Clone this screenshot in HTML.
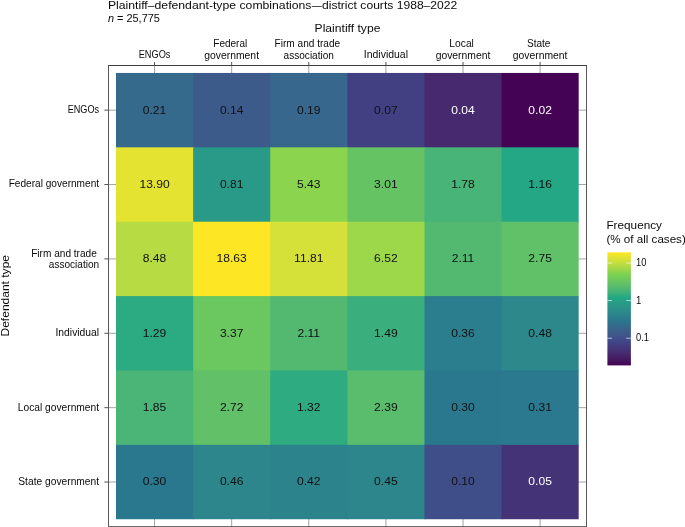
<!DOCTYPE html>
<html lang="en"><head><meta charset="utf-8"><title>Plaintiff–defendant-type combinations</title>
<style>html,body{margin:0;padding:0;background:#fff}body{width:685px;height:527px;overflow:hidden}svg{display:block}</style></head>
<body>
<svg width="685" height="527" viewBox="0 0 685 527" font-family="Liberation Sans, sans-serif" fill="#0a0a0a">
<rect width="685" height="527" fill="#fff"/>
<text y="8.8" font-size="10.4"><tspan x="107.9" textLength="203.6" lengthAdjust="spacingAndGlyphs">Plaintiff–defendant-type combinations</tspan><tspan x="311.8" textLength="10.1" lengthAdjust="spacingAndGlyphs">—</tspan><tspan x="322.0" textLength="135.3" lengthAdjust="spacingAndGlyphs">district courts 1988–2022</tspan></text>
<text x="107.9" y="22.0" font-size="10.4" textLength="52.0" lengthAdjust="spacingAndGlyphs"><tspan font-style="italic">n</tspan> = 25,775</text>
<text x="314.60" y="31.70" font-size="10.4" textLength="65.8" lengthAdjust="spacingAndGlyphs">Plaintiff type</text>
<text transform="translate(9.0,336.5) rotate(-90)" font-size="10.4" textLength="81.5" lengthAdjust="spacingAndGlyphs">Defendant type</text>
<g stroke="#333333" stroke-width="0.45" fill="none">
<path d="M154.56 65.5V73.45M154.56 518.73V526.75"/>
<path d="M231.67 65.5V73.45M231.67 518.73V526.75"/>
<path d="M308.79 65.5V73.45M308.79 518.73V526.75"/>
<path d="M385.90 65.5V73.45M385.90 518.73V526.75"/>
<path d="M463.02 65.5V73.45M463.02 518.73V526.75"/>
<path d="M540.13 65.5V73.45M540.13 518.73V526.75"/>
<path d="M108.5 110.14H116.5M578.19 110.14H586.5"/>
<path d="M108.5 184.52H116.5M578.19 184.52H586.5"/>
<path d="M108.5 258.90H116.5M578.19 258.90H586.5"/>
<path d="M108.5 333.28H116.5M578.19 333.28H586.5"/>
<path d="M108.5 407.66H116.5M578.19 407.66H586.5"/>
<path d="M108.5 482.04H116.5M578.19 482.04H586.5"/>
</g>
<g stroke="#333333" stroke-width="0.85" fill="none">
<path d="M154.56 62.0V65.5"/>
<path d="M231.67 62.0V65.5"/>
<path d="M308.79 62.0V65.5"/>
<path d="M385.90 62.0V65.5"/>
<path d="M463.02 62.0V65.5"/>
<path d="M540.13 62.0V65.5"/>
<path d="M104.4 110.14H108.5"/>
<path d="M104.4 184.52H108.5"/>
<path d="M104.4 258.90H108.5"/>
<path d="M104.4 333.28H108.5"/>
<path d="M104.4 407.66H108.5"/>
<path d="M104.4 482.04H108.5"/>
</g>
<rect x="116.00" y="72.95" width="78.11" height="75.38" fill="#356a8c"/>
<rect x="193.12" y="72.95" width="78.11" height="75.38" fill="#3c5b8a"/>
<rect x="270.23" y="72.95" width="78.11" height="75.38" fill="#37678c"/>
<rect x="347.34" y="72.95" width="78.11" height="75.38" fill="#424083"/>
<rect x="424.46" y="72.95" width="78.11" height="75.38" fill="#46296e"/>
<rect x="501.57" y="72.95" width="77.11" height="75.38" fill="#440355"/>
<rect x="116.00" y="147.33" width="78.11" height="75.38" fill="#e4e332"/>
<rect x="193.12" y="147.33" width="78.11" height="75.38" fill="#299a87"/>
<rect x="270.23" y="147.33" width="78.11" height="75.38" fill="#8ad44e"/>
<rect x="347.34" y="147.33" width="78.11" height="75.38" fill="#66c364"/>
<rect x="424.46" y="147.33" width="78.11" height="75.38" fill="#48b477"/>
<rect x="501.57" y="147.33" width="77.11" height="75.38" fill="#23a784"/>
<rect x="116.00" y="221.71" width="78.11" height="75.38" fill="#b7db43"/>
<rect x="193.12" y="221.71" width="78.11" height="75.38" fill="#fde725"/>
<rect x="270.23" y="221.71" width="78.11" height="75.38" fill="#d5e038"/>
<rect x="347.34" y="221.71" width="78.11" height="75.38" fill="#9dd74a"/>
<rect x="424.46" y="221.71" width="78.11" height="75.38" fill="#53b971"/>
<rect x="501.57" y="221.71" width="77.11" height="75.38" fill="#61c168"/>
<rect x="116.00" y="296.09" width="78.11" height="75.38" fill="#2caa82"/>
<rect x="193.12" y="296.09" width="78.11" height="75.38" fill="#6bc760"/>
<rect x="270.23" y="296.09" width="78.11" height="75.38" fill="#53b971"/>
<rect x="347.34" y="296.09" width="78.11" height="75.38" fill="#3aae7d"/>
<rect x="424.46" y="296.09" width="78.11" height="75.38" fill="#2b7e8d"/>
<rect x="501.57" y="296.09" width="77.11" height="75.38" fill="#2c888b"/>
<rect x="116.00" y="370.47" width="78.11" height="75.38" fill="#4ab576"/>
<rect x="193.12" y="370.47" width="78.11" height="75.38" fill="#61c068"/>
<rect x="270.23" y="370.47" width="78.11" height="75.38" fill="#2eab81"/>
<rect x="347.34" y="370.47" width="78.11" height="75.38" fill="#5abc6d"/>
<rect x="424.46" y="370.47" width="78.11" height="75.38" fill="#2a788e"/>
<rect x="501.57" y="370.47" width="77.11" height="75.38" fill="#2a798e"/>
<rect x="116.00" y="444.85" width="78.11" height="74.38" fill="#2a788e"/>
<rect x="193.12" y="444.85" width="78.11" height="74.38" fill="#2c868b"/>
<rect x="270.23" y="444.85" width="78.11" height="74.38" fill="#2c838c"/>
<rect x="347.34" y="444.85" width="78.11" height="74.38" fill="#2c868b"/>
<rect x="424.46" y="444.85" width="78.11" height="74.38" fill="#3f4e88"/>
<rect x="501.57" y="444.85" width="77.11" height="74.38" fill="#453377"/>
<path d="M108.0 65.5H587.0M108.0 526.75H587.0" stroke="#3d3d3d" stroke-width="1" fill="none"/>
<path d="M108.5 65.5V526.75M586.5 65.5V526.75" stroke="#585858" stroke-width="1" fill="none"/>
<text x="142.80" y="113.59" font-size="11.4" textLength="23.5" lengthAdjust="spacingAndGlyphs" fill="#111">0.21</text>
<text x="219.91" y="113.59" font-size="11.4" textLength="23.5" lengthAdjust="spacingAndGlyphs" fill="#111">0.14</text>
<text x="297.03" y="113.59" font-size="11.4" textLength="23.5" lengthAdjust="spacingAndGlyphs" fill="#111">0.19</text>
<text x="374.14" y="113.59" font-size="11.4" textLength="23.5" lengthAdjust="spacingAndGlyphs" fill="#111">0.07</text>
<text x="451.26" y="113.59" font-size="11.4" textLength="23.5" lengthAdjust="spacingAndGlyphs" fill="#fff">0.04</text>
<text x="528.37" y="113.59" font-size="11.4" textLength="23.5" lengthAdjust="spacingAndGlyphs" fill="#fff">0.02</text>
<text x="139.44" y="187.97" font-size="11.4" textLength="30.2" lengthAdjust="spacingAndGlyphs" fill="#111">13.90</text>
<text x="219.91" y="187.97" font-size="11.4" textLength="23.5" lengthAdjust="spacingAndGlyphs" fill="#111">0.81</text>
<text x="297.03" y="187.97" font-size="11.4" textLength="23.5" lengthAdjust="spacingAndGlyphs" fill="#111">5.43</text>
<text x="374.14" y="187.97" font-size="11.4" textLength="23.5" lengthAdjust="spacingAndGlyphs" fill="#111">3.01</text>
<text x="451.26" y="187.97" font-size="11.4" textLength="23.5" lengthAdjust="spacingAndGlyphs" fill="#111">1.78</text>
<text x="528.37" y="187.97" font-size="11.4" textLength="23.5" lengthAdjust="spacingAndGlyphs" fill="#111">1.16</text>
<text x="142.80" y="262.35" font-size="11.4" textLength="23.5" lengthAdjust="spacingAndGlyphs" fill="#111">8.48</text>
<text x="216.55" y="262.35" font-size="11.4" textLength="30.2" lengthAdjust="spacingAndGlyphs" fill="#111">18.63</text>
<text x="294.12" y="262.35" font-size="11.4" textLength="29.3" lengthAdjust="spacingAndGlyphs" fill="#111">11.81</text>
<text x="374.14" y="262.35" font-size="11.4" textLength="23.5" lengthAdjust="spacingAndGlyphs" fill="#111">6.52</text>
<text x="451.71" y="262.35" font-size="11.4" textLength="22.6" lengthAdjust="spacingAndGlyphs" fill="#111">2.11</text>
<text x="528.37" y="262.35" font-size="11.4" textLength="23.5" lengthAdjust="spacingAndGlyphs" fill="#111">2.75</text>
<text x="142.80" y="336.73" font-size="11.4" textLength="23.5" lengthAdjust="spacingAndGlyphs" fill="#111">1.29</text>
<text x="219.91" y="336.73" font-size="11.4" textLength="23.5" lengthAdjust="spacingAndGlyphs" fill="#111">3.37</text>
<text x="297.48" y="336.73" font-size="11.4" textLength="22.6" lengthAdjust="spacingAndGlyphs" fill="#111">2.11</text>
<text x="374.14" y="336.73" font-size="11.4" textLength="23.5" lengthAdjust="spacingAndGlyphs" fill="#111">1.49</text>
<text x="451.26" y="336.73" font-size="11.4" textLength="23.5" lengthAdjust="spacingAndGlyphs" fill="#111">0.36</text>
<text x="528.37" y="336.73" font-size="11.4" textLength="23.5" lengthAdjust="spacingAndGlyphs" fill="#111">0.48</text>
<text x="142.80" y="411.11" font-size="11.4" textLength="23.5" lengthAdjust="spacingAndGlyphs" fill="#111">1.85</text>
<text x="219.91" y="411.11" font-size="11.4" textLength="23.5" lengthAdjust="spacingAndGlyphs" fill="#111">2.72</text>
<text x="297.03" y="411.11" font-size="11.4" textLength="23.5" lengthAdjust="spacingAndGlyphs" fill="#111">1.32</text>
<text x="374.14" y="411.11" font-size="11.4" textLength="23.5" lengthAdjust="spacingAndGlyphs" fill="#111">2.39</text>
<text x="451.26" y="411.11" font-size="11.4" textLength="23.5" lengthAdjust="spacingAndGlyphs" fill="#111">0.30</text>
<text x="528.37" y="411.11" font-size="11.4" textLength="23.5" lengthAdjust="spacingAndGlyphs" fill="#111">0.31</text>
<text x="142.80" y="485.49" font-size="11.4" textLength="23.5" lengthAdjust="spacingAndGlyphs" fill="#111">0.30</text>
<text x="219.91" y="485.49" font-size="11.4" textLength="23.5" lengthAdjust="spacingAndGlyphs" fill="#111">0.46</text>
<text x="297.03" y="485.49" font-size="11.4" textLength="23.5" lengthAdjust="spacingAndGlyphs" fill="#111">0.42</text>
<text x="374.14" y="485.49" font-size="11.4" textLength="23.5" lengthAdjust="spacingAndGlyphs" fill="#111">0.45</text>
<text x="451.26" y="485.49" font-size="11.4" textLength="23.5" lengthAdjust="spacingAndGlyphs" fill="#111">0.10</text>
<text x="528.37" y="485.49" font-size="11.4" textLength="23.5" lengthAdjust="spacingAndGlyphs" fill="#fff">0.05</text>
<text x="138.71" y="57.60" font-size="10" textLength="31.7" lengthAdjust="spacingAndGlyphs">ENGOs</text>
<text x="213.37" y="47.20" font-size="10" textLength="33.8" lengthAdjust="spacingAndGlyphs">Federal</text>
<text x="204.32" y="58.60" font-size="10" textLength="54.7" lengthAdjust="spacingAndGlyphs">government</text>
<text x="274.59" y="47.20" font-size="10" textLength="65.6" lengthAdjust="spacingAndGlyphs">Firm and trade</text>
<text x="283.64" y="58.60" font-size="10" textLength="50.3" lengthAdjust="spacingAndGlyphs">association</text>
<text x="363.80" y="57.60" font-size="10" textLength="44.2" lengthAdjust="spacingAndGlyphs">Individual</text>
<text x="449.37" y="47.20" font-size="10" textLength="24.5" lengthAdjust="spacingAndGlyphs">Local</text>
<text x="435.67" y="58.60" font-size="10" textLength="54.7" lengthAdjust="spacingAndGlyphs">government</text>
<text x="526.98" y="47.20" font-size="10" textLength="23.5" lengthAdjust="spacingAndGlyphs">State</text>
<text x="512.78" y="58.60" font-size="10" textLength="54.7" lengthAdjust="spacingAndGlyphs">government</text>
<text x="67.70" y="112.99" font-size="10" textLength="31.4" lengthAdjust="spacingAndGlyphs">ENGOs</text>
<text x="8.70" y="187.37" font-size="10" textLength="90.4" lengthAdjust="spacingAndGlyphs">Federal government</text>
<text x="31.20" y="256.50" font-size="10" textLength="65.6" lengthAdjust="spacingAndGlyphs">Firm and trade</text>
<text x="48.80" y="268.00" font-size="10" textLength="50.3" lengthAdjust="spacingAndGlyphs">association</text>
<text x="55.50" y="336.13" font-size="10" textLength="43.6" lengthAdjust="spacingAndGlyphs">Individual</text>
<text x="17.80" y="410.51" font-size="10" textLength="81.3" lengthAdjust="spacingAndGlyphs">Local government</text>
<text x="18.30" y="484.89" font-size="10" textLength="80.8" lengthAdjust="spacingAndGlyphs">State government</text>
<text x="606.40" y="228.80" font-size="10.4" textLength="55.6" lengthAdjust="spacingAndGlyphs">Frequency</text>
<text x="606.40" y="242.50" font-size="10.4" textLength="79.4" lengthAdjust="spacingAndGlyphs">(% of all cases)</text>
<defs><linearGradient id="vg" x1="0" y1="1" x2="0" y2="0">
<stop offset="0.000" stop-color="#440154"/>
<stop offset="0.050" stop-color="#451860"/>
<stop offset="0.100" stop-color="#46286d"/>
<stop offset="0.150" stop-color="#44367a"/>
<stop offset="0.200" stop-color="#414487"/>
<stop offset="0.250" stop-color="#3f5189"/>
<stop offset="0.300" stop-color="#3b5e8b"/>
<stop offset="0.350" stop-color="#346b8c"/>
<stop offset="0.400" stop-color="#2a788e"/>
<stop offset="0.450" stop-color="#2c848c"/>
<stop offset="0.500" stop-color="#2b9089"/>
<stop offset="0.550" stop-color="#289c87"/>
<stop offset="0.600" stop-color="#22a884"/>
<stop offset="0.650" stop-color="#44b279"/>
<stop offset="0.700" stop-color="#5abc6d"/>
<stop offset="0.750" stop-color="#6bc760"/>
<stop offset="0.800" stop-color="#7ad151"/>
<stop offset="0.850" stop-color="#9fd749"/>
<stop offset="0.900" stop-color="#c0dd40"/>
<stop offset="0.950" stop-color="#dfe234"/>
<stop offset="1.000" stop-color="#fde725"/>
</linearGradient></defs>
<rect x="607.4" y="252.3" width="23.50" height="113.10" fill="url(#vg)"/>
<path d="M607.4 263.0h4.7M630.9 263.0h-4.7" stroke="#fff" stroke-opacity="0.8" stroke-width="0.8" fill="none"/>
<text x="636.00" y="266.20" font-size="10" textLength="10.4" lengthAdjust="spacingAndGlyphs">10</text>
<path d="M607.4 300.5h4.7M630.9 300.5h-4.7" stroke="#fff" stroke-opacity="0.8" stroke-width="0.8" fill="none"/>
<text x="636.00" y="303.70" font-size="10" textLength="5.3" lengthAdjust="spacingAndGlyphs">1</text>
<path d="M607.4 338.2h4.7M630.9 338.2h-4.7" stroke="#fff" stroke-opacity="0.8" stroke-width="0.8" fill="none"/>
<text x="636.00" y="341.40" font-size="10" textLength="13.0" lengthAdjust="spacingAndGlyphs">0.1</text>
</svg>
</body></html>
